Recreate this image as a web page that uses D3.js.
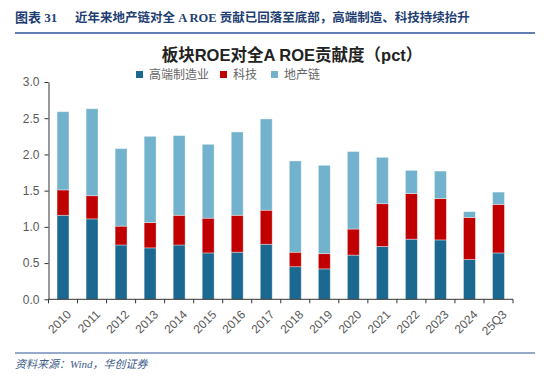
<!DOCTYPE html>
<html>
<head>
<meta charset="utf-8">
<script src="https://cdn.jsdelivr.net/npm/d3@7"></script>
<style>
  body { margin: 0; background: #fff; }
  svg text { font-family: "Liberation Sans", Arial, "Noto Sans CJK SC", sans-serif; }
</style>
</head>
<body>
<div id="chart"></div>
<script>
let categories = ["2010", "2011", "2012", "2013", "2014", "2015", "2016", "2017", "2018", "2019", "2020", "2021", "2022", "2023", "2024", "25Q3"];
let highEnd = [1.16, 1.11, 0.75, 0.71, 0.75, 0.64, 0.65, 0.76, 0.45, 0.42, 0.61, 0.73, 0.83, 0.82, 0.55, 0.64];
let tech = [0.35, 0.32, 0.26, 0.35, 0.41, 0.48, 0.51, 0.47, 0.20, 0.21, 0.36, 0.59, 0.63, 0.57, 0.58, 0.67];
let property = [1.08, 1.20, 1.07, 1.19, 1.10, 1.02, 1.15, 1.26, 1.26, 1.22, 1.07, 0.64, 0.32, 0.38, 0.08, 0.17];
let seriesNames = ["高端制造业", "科技", "地产链"];
let yTicks = [0, 0.5, 1, 1.5, 2, 2.5, 3];

let w = 550, h = 384;
let colors = ["#1b6890", "#c00000", "#73b2cc"];

const svg = d3.select("#chart")
  .append("svg")
  .attr("width", w)
  .attr("height", h);

// header
let headFont = "'Liberation Serif', 'Noto Sans CJK SC', serif";
svg.append("text")
  .attr("x", 15)
  .attr("y", 22)
  .style("font-family", headFont)
  .style("font-weight", "bold")
  .style("font-size", "13px")
  .style("fill", "#1f3f73")
  .text("图表 31");
svg.append("text")
  .attr("x", 75)
  .attr("y", 22)
  .style("font-family", headFont)
  .style("font-weight", "bold")
  .style("font-size", "12.5px")
  .style("fill", "#1f3f73")
  .text("近年来地产链对全 A ROE 贡献已回落至底部，高端制造、科技持续抬升");

svg.append("line")
  .attr("x1", 15).attr("x2", 535)
  .attr("y1", 33).attr("y2", 33)
  .style("stroke", "#2e5597")
  .style("stroke-width", 1.5);

// chart title
svg.append("text")
  .attr("x", 292)
  .attr("y", 61)
  .attr("text-anchor", "middle")
  .style("font-size", "16.5px")
  .style("font-weight", "bold")
  .style("fill", "#222")
  .text("板块ROE对全A ROE贡献度（pct）");

const xScale = d3.scaleBand()
  .domain(categories)
  .range([48.5, 513])
  .paddingInner(0.59)
  .paddingOuter(0.295);

const yScale = d3.scaleLinear()
  .domain([0, 3])
  .range([299.3, 82]);

let data = categories.map((c, i) => ({cat: c, s0: highEnd[i], s1: tech[i], s2: property[i]}));
let stacked = d3.stack().keys(["s0", "s1", "s2"])(data);

svg.selectAll("g.series")
  .data(stacked)
  .enter()
  .append("g")
  .attr("class", "series")
  .style("fill", (d, i) => colors[i])
  .selectAll("rect")
  .data(d => d)
  .enter()
  .append("rect")
  .attr("x", d => xScale(d.data.cat))
  .attr("y", d => yScale(d[1]))
  .attr("width", xScale.bandwidth())
  .attr("height", d => yScale(d[0]) - yScale(d[1]))
  .style("stroke", "rgba(255,255,255,0.45)")
  .style("stroke-width", 0.8);

// y axis
const yAxis = d3.axisLeft(yScale)
  .tickValues(yTicks)
  .tickFormat(d3.format(".1f"))
  .tickSizeInner(4)
  .tickSizeOuter(0)
  .tickPadding(5);

let gy = svg.append("g")
  .attr("transform", "translate(48.5,0)")
  .call(yAxis);
gy.select(".domain").style("stroke", "#333");
gy.selectAll(".tick line").style("stroke", "#333");
gy.selectAll("text").style("font-size", "12px").style("fill", "#595959");

// x axis with ticks between categories
let gx = svg.append("g")
  .attr("transform", "translate(0,299.3)");
gx.append("line")
  .attr("x1", 48.5).attr("x2", 513)
  .style("stroke", "#333");
let step = xScale.step();
gx.selectAll("line.tk")
  .data(d3.range(categories.length + 1))
  .enter()
  .append("line")
  .attr("class", "tk")
  .attr("x1", i => 48.5 + i * step)
  .attr("x2", i => 48.5 + i * step)
  .attr("y1", 0).attr("y2", 4)
  .style("stroke", "#333");
gx.selectAll("text")
  .data(categories)
  .enter()
  .append("text")
  .attr("text-anchor", "end")
  .attr("transform", d => "translate(" + (xScale(d) + xScale.bandwidth() / 2 + 3) + ",10) rotate(-45)")
  .attr("dy", "0.7em")
  .style("font-size", "12px")
  .style("fill", "#595959")
  .text(d => d);

// legend
let legendX = [136, 220, 271];
let legend = svg.append("g");
legend.selectAll("rect")
  .data(seriesNames)
  .enter()
  .append("rect")
  .attr("x", (d, i) => legendX[i])
  .attr("y", 71)
  .attr("width", 7)
  .attr("height", 7)
  .style("fill", (d, i) => colors[i]);
legend.selectAll("text")
  .data(seriesNames)
  .enter()
  .append("text")
  .attr("x", (d, i) => legendX[i] + 13)
  .attr("y", 79)
  .style("font-size", "12px")
  .style("fill", "#666")
  .text(d => d);

// footer
svg.append("line")
  .attr("x1", 15).attr("x2", 535)
  .attr("y1", 353).attr("y2", 353)
  .style("stroke", "#2e5597")
  .style("stroke-width", 1.2);

svg.append("text")
  .attr("x", 15)
  .attr("y", 368)
  .style("font-family", headFont)
  .style("font-style", "italic")
  .style("font-size", "11px")
  .style("fill", "#3e5b8a")
  .text("资料来源：Wind，华创证券");
</script>
</body>
</html>
